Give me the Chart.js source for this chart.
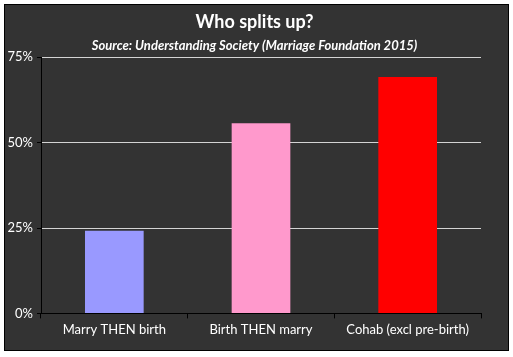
<!DOCTYPE html>
<html>
<head>
<meta charset="utf-8">
<script src="https://cdn.jsdelivr.net/npm/chart.js@4/dist/chart.umd.min.js"></script>
<style>
  html, body { margin: 0; padding: 0; background: #ffffff; }
  #box { position: absolute; left: 4px; top: 4px; width: 503px; height: 345px; border: 1px solid #000; background: #333333; }
  canvas { display: block; }
</style>
</head>
<body>
<div id="box"><canvas id="c" width="503" height="345"></canvas></div>
<script>
const categories = ["Marry THEN birth", "Birth THEN marry", "Cohab (excl pre-birth)"];
const splitRates = [24.2, 55.7, 69.2];
const barColors = ["#9999FF", "#FF99CC", "#FF0000"];
const yTicks = [0, 25, 50, 75];
const titleText = "Who splits up?";
const subtitleText = "Source: Understanding Society (Marriage Foundation 2015)";

const FONT = "Lato, 'Open Sans', sans-serif";

// Center title/subtitle across the full canvas width (not the padded layout area)
const centerTitles = {
  id: "centerTitles",
  afterLayout(chart) {
    chart.boxes.forEach(b => {
      if (b.position === "top" && b.fullSize) {
        b.left = 0;
        b.right = chart.width - 4;
        b.width = b.right - b.left;
      }
    });
  }
};

new Chart(document.getElementById("c"), {
  type: "bar",
  data: {
    labels: categories,
    datasets: [{
      data: splitRates,
      backgroundColor: barColors,
      borderWidth: 0,
      barPercentage: 0.4,
      categoryPercentage: 1.0
    }]
  },
  plugins: [centerTitles],
  options: {
    responsive: false,
    animation: false,
    devicePixelRatio: 1,
    layout: { padding: { left: 0, right: 27, top: 0, bottom: 8 } },
    plugins: {
      legend: { display: false },
      tooltip: { enabled: false },
      title: {
        display: true,
        text: titleText,
        color: "#ffffff",
        font: { family: FONT, size: 18, weight: "bold" },
        padding: { top: 6, bottom: 3 }
      },
      subtitle: {
        display: true,
        text: subtitleText,
        color: "#ffffff",
        font: { family: FONT, size: 13, weight: "bold", style: "italic" },
        padding: { top: 2, bottom: 4 }
      }
    },
    scales: {
      x: {
        offset: true,
        grid: { display: true, drawOnChartArea: false, offset: true, color: "#000000", tickLength: 5, tickColor: "#000000" },
        border: { display: true, color: "#000000", width: 1 },
        ticks: { color: "#ffffff", font: { family: FONT, size: 13 }, padding: 4, maxRotation: 0 }
      },
      y: {
        min: 0,
        max: 75,
        afterBuildTicks: (scale) => { scale.ticks = yTicks.map(v => ({ value: v })); },
        afterFit: (scale) => { scale.width = 36; },
        grid: { color: "#d4d4d4", lineWidth: 1, tickLength: 4, tickColor: "#000000", drawTicks: true },
        border: { display: true, color: "#000000", width: 1 },
        ticks: {
          color: "#ffffff",
          font: { family: FONT, size: 13 },
          padding: 4,
          callback: (v) => v + "%"
        }
      }
    }
  }
});
</script>
</body>
</html>
